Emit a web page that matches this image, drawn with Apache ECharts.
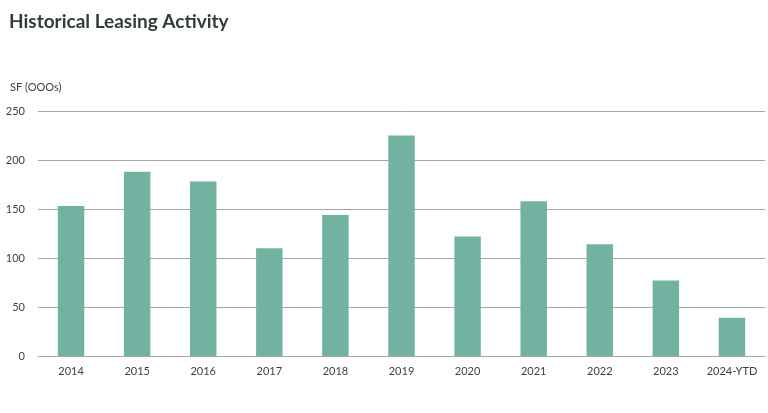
<!DOCTYPE html>
<html>
<head>
<meta charset="utf-8">
<script src="https://cdn.jsdelivr.net/npm/echarts@6/dist/echarts.min.js"></script>
<style>
html,body{margin:0;padding:0;background:#fff;}
#c{width:768px;height:413px;}
</style>
</head>
<body>
<div id="c"></div>
<script>
const categories = ['2014','2015','2016','2017','2018','2019','2020','2021','2022','2023','2024-YTD'];
const leasingSF = [153, 188, 178, 110, 144, 225, 122, 158, 114, 77, 39];
const yTicks = {min: 0, max: 250, interval: 50};

const chart = echarts.init(document.getElementById('c'), null, {renderer: 'canvas'});
chart.setOption({
  animation: false,
  backgroundColor: '#ffffff',
  title: [{
    text: 'Historical Leasing Activity',
    left: 4, top: 7,
    textStyle: {fontFamily: 'Lato', fontWeight: 'bold', fontSize: 19, color: '#2f3d3d'}
  }, {
    text: 'SF (OOOs)',
    left: 5, top: 77,
    textStyle: {fontFamily: 'Lato', fontWeight: 'normal', fontSize: 11, color: '#404040'}
  }],
  grid: {left: 38, right: 3, top: 111, bottom: 57, containLabel: false},
  xAxis: {
    type: 'category',
    data: categories,
    axisLine: {show: true, lineStyle: {color: '#a6a6a6', width: 1}},
    axisTick: {show: false},
    axisLabel: {color: '#404040', fontFamily: 'Lato', fontSize: 11, margin: 10, interval: 0}
  },
  yAxis: {
    type: 'value',
    min: yTicks.min, max: yTicks.max, interval: yTicks.interval,
    axisLine: {show: false},
    axisTick: {show: false},
    splitLine: {show: true, lineStyle: {color: '#a6a6a6', width: 1}},
    axisLabel: {color: '#404040', fontFamily: 'Lato', fontSize: 11, margin: 13}
  },
  series: [{
    type: 'bar',
    data: leasingSF,
    barWidth: '40%',
    itemStyle: {color: '#72b2a0'}
  }]
});
</script>
</body>
</html>
